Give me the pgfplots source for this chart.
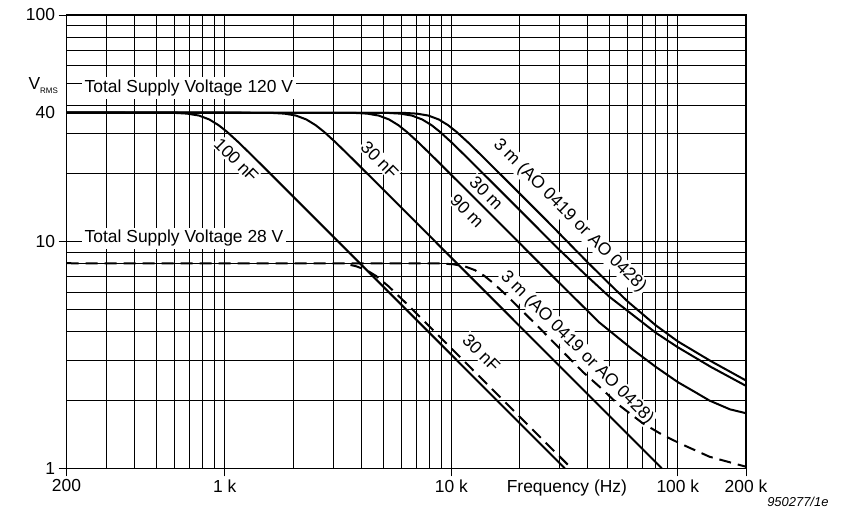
\documentclass[border=0pt]{standalone}
\usepackage{fontspec}
\setmainfont{Liberation Sans}
\usepackage{pgfplots}
\pgfplotsset{compat=1.18}
\begin{document}
\begin{tikzpicture}[font=\fontsize{17.5}{21}\selectfont]
\begin{axis}[
    name=ax,
    at={(0,0)}, anchor=south west,
    scale only axis, width=679.5bp, height=453.3bp,
    xmode=log, ymode=log,
    xmin=200, xmax=200000, ymin=1, ymax=100,
    clip=false,
    xtick={200,1000,10000,100000,200000},
    xticklabels={200,1 k,10 k,100 k,200 k},
    ytick={1,10,100},
    yticklabels={1,10,100},
    minor xtick={300,400,500,600,700,800,900,2000,3000,4000,5000,6000,7000,8000,9000,20000,30000,40000,50000,60000,70000,80000,90000},
    minor ytick={2,3,4,5,6,7,8,9,20,30,40,50,60,70,80,90},
    extra y ticks={37.1},
    extra y tick labels={40},
    extra y tick style={grid=none, major tick style={draw=none}},
    grid=both,
    major grid style={black, line width=0.8bp},
    minor grid style={black, line width=0.8bp},
    tick align=outside,
    tick pos=left,
    major tick length=8bp,
    minor tick length=0pt,
    tick style={black, line width=0.9bp},
    axis line style={line width=1.2bp},
    ticklabel style={font=\fontsize{17.5}{21}\selectfont},
    cycle list={{black,solid}},
    no markers,
    every axis plot/.append style={line width=2bp, line join=round},
]

% labels first, so the white boxes sit under the curves
\node[fill=white, inner sep=2.5bp, anchor=base west] at (axis cs:200,50) [xshift=15.5bp, yshift=-9.4bp] {Total Supply Voltage 120 V};
\node[fill=white, inner sep=2.5bp, anchor=base west] at (axis cs:200,10) [xshift=15.5bp, yshift=-1bp] {Total Supply Voltage 28 V};
\node[rotate=-45, fill=white, inner sep=1.5bp] at (axis cs:1124,22.9) {100 nF};
\node[rotate=-45, fill=white, inner sep=1.5bp] at (axis cs:4830,22.9) {30 nF};
\node[rotate=-45, fill=white, inner sep=1.5bp] at (axis cs:11740,13.66) {90 m};
\node[rotate=-45, fill=white, inner sep=1.5bp] at (axis cs:14280,16.4) {30 m};
\node[rotate=-45, fill=white, inner sep=1.5bp] at (axis cs:32600,12.98) [xshift=1.5bp, yshift=1.5bp] {3 m (AO 0419 or AO 0428)};
\node[rotate=-45, fill=white, inner sep=1.5bp] at (axis cs:35900,3.41) {3 m (AO 0419 or AO 0428)};
\node[rotate=-45, fill=white, inner sep=1.5bp] at (axis cs:13570,3.22) {30 nF};

% 120 V supply: 100 nF, 30 nF, 90 m, 30 m, 3 m
\addplot coordinates {(200,37.1)(598,37.0)(683,36.72)(769,36.0)(854,34.6)(939,32.64)(1025,30.46)(1153,27.35)(1366,23.17)(1708,18.55)(2562,12.37)(31700,1.0)};
\addplot coordinates {(200,37.1)(1603,37.0)(1832,36.72)(2061,36.0)(2290,34.6)(2519,32.64)(2748,30.46)(3092,27.35)(3664,23.17)(4580,18.55)(6870,12.37)(84900,1.0)};
\addplot coordinates {(200,37.1)(3717,37.0)(4248,36.72)(4779,36.0)(5310,34.6)(5841,32.64)(6372,30.46)(7169,27.35)(8496,23.17)(10620,18.55)(15930,12.37)(30000,6.57)(45000,4.4)(63000,3.35)(80000,2.8)(100000,2.4)(120000,2.16)(138000,1.99)(170000,1.82)(200000,1.75)};
\addplot coordinates {(200,37.1)(5208,37.0)(5952,36.72)(6696,36.0)(7440,34.6)(8184,32.64)(8928,30.46)(10044,27.35)(11904,23.17)(14880,18.55)(22320,12.37)(30000,9.2)(40000,7.0)(50000,5.7)(60000,4.95)(80000,3.96)(100000,3.42)(140000,2.80)(200000,2.31)};
\addplot coordinates {(200,37.1)(6160,37.0)(7040,36.72)(7920,36.0)(8800,34.6)(9680,32.64)(10560,30.46)(11880,27.35)(14080,23.17)(17600,18.55)(26400,12.37)(40000,8.1)(50000,6.5)(60000,5.45)(80000,4.27)(100000,3.63)(140000,2.97)(200000,2.44)};

% 28 V supply: 3 m, 30 nF
\addplot[dash pattern=on 12bp off 7bp] coordinates {(200,8.03)(8890,8.01)(10160,7.95)(11430,7.79)(12700,7.49)(13970,7.07)(15240,6.59)(17145,5.92)(20320,5.01)(25400,4.01)(38100,2.66)(45100,2.29)(55000,1.9)(70000,1.58)(85000,1.41)(101700,1.29)(137900,1.125)(200000,1.016)};
\addplot[dash pattern=on 12bp off 7bp] coordinates {(3587,7.89)(3798,7.79)(4220,7.49)(4642,7.07)(5275,6.36)(6330,5.34)(8440,4.01)(12660,2.67)(33900,1.0)};

\node[anchor=base west] at (rel axis cs:0,0.8346) [xshift=-41.5bp] {V\raisebox{-0.4ex}{\fontsize{8}{9}\selectfont RMS}};
\node[anchor=base west] at (rel axis cs:0,0) [xshift=436.8bp, yshift=-24.4bp] {Frequency (Hz)};
\node[anchor=base east, font=\fontsize{13}{15}\selectfont\itshape] at (rel axis cs:1,0) [xshift=86bp, yshift=-38.2bp] {950277/1e};
\end{axis}
\pgfresetboundingbox
\useasboundingbox (-66.5bp,-42.7bp) rectangle (775.5bp,468.3bp);
\end{tikzpicture}
\end{document}
